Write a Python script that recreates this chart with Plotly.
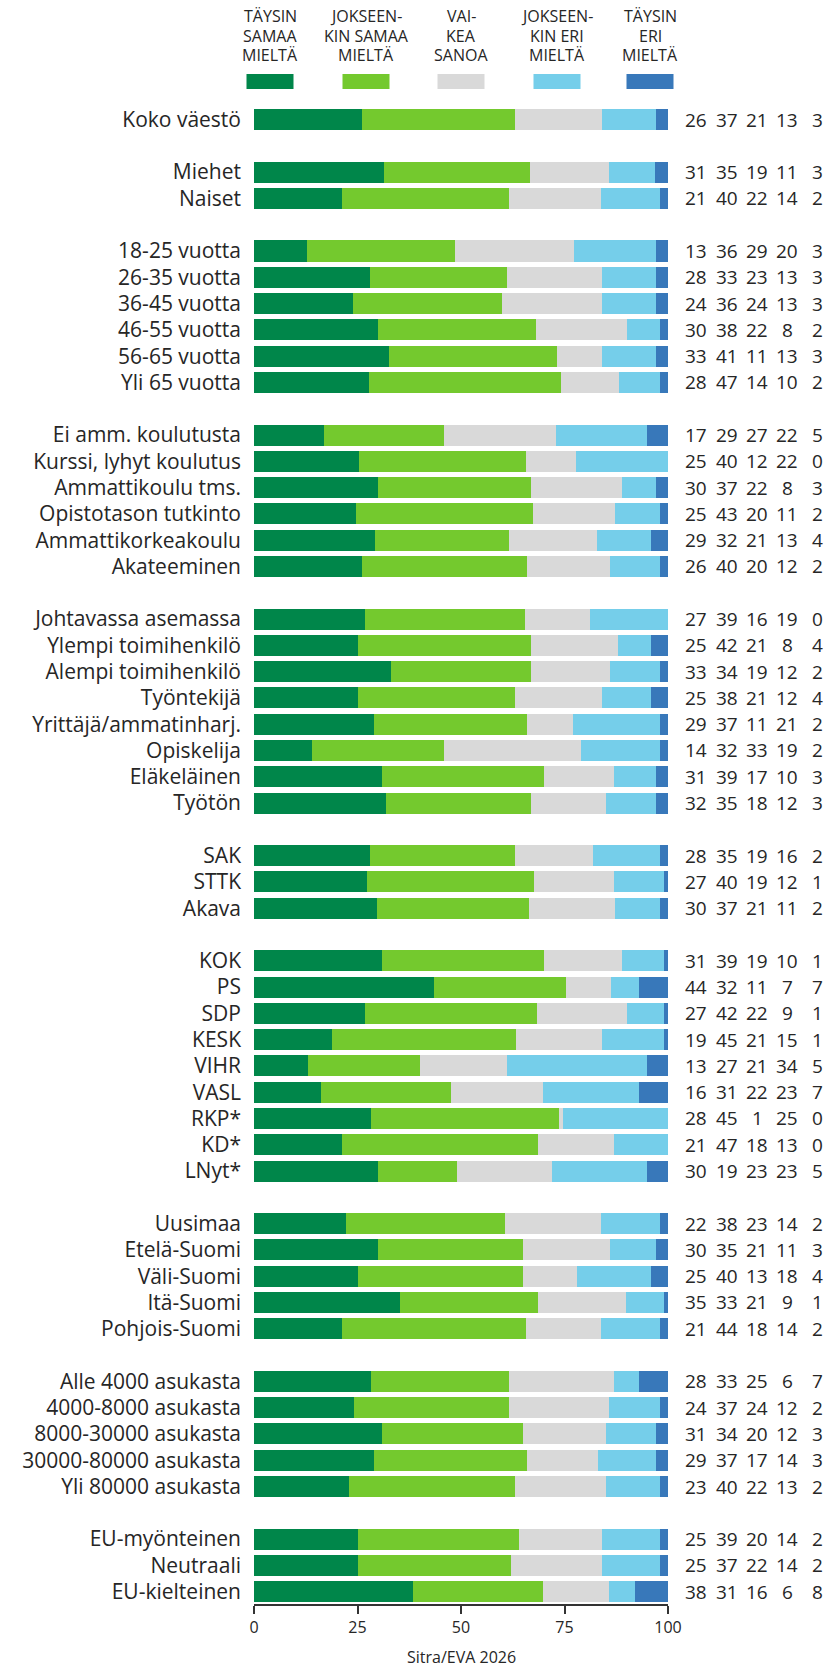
import plotly.graph_objects as go

# ---------------- data ----------------
legend_lines = [["TÄYSIN", "SAMAA", "MIELTÄ"], ["JOKSEEN-", "KIN SAMAA", "MIELTÄ"], ["VAI-", "KEA", "SANOA"],
                ["JOKSEEN-", "KIN ERI", "MIELTÄ"], ["TÄYSIN", "ERI", "MIELTÄ"]]
series_names = ["Täysin samaa mieltä", "Jokseenkin samaa mieltä", "Vaikea sanoa",
                "Jokseenkin eri mieltä", "Täysin eri mieltä"]
colors = ["#00864A", "#74C92E", "#D9D9D9", "#75CEEA", "#3878BA"]

groups = [
    ["Koko väestö"],
    ["Miehet", "Naiset"],
    ["18-25 vuotta", "26-35 vuotta", "36-45 vuotta", "46-55 vuotta", "56-65 vuotta", "Yli 65 vuotta"],
    ["Ei amm. koulutusta", "Kurssi, lyhyt koulutus", "Ammattikoulu tms.", "Opistotason tutkinto",
     "Ammattikorkeakoulu", "Akateeminen"],
    ["Johtavassa asemassa", "Ylempi toimihenkilö", "Alempi toimihenkilö", "Työntekijä",
     "Yrittäjä/ammatinharj.", "Opiskelija", "Eläkeläinen", "Työtön"],
    ["SAK", "STTK", "Akava"],
    ["KOK", "PS", "SDP", "KESK", "VIHR", "VASL", "RKP*", "KD*", "LNyt*"],
    ["Uusimaa", "Etelä-Suomi", "Väli-Suomi", "Itä-Suomi", "Pohjois-Suomi"],
    ["Alle 4000 asukasta", "4000-8000 asukasta", "8000-30000 asukasta", "30000-80000 asukasta",
     "Yli 80000 asukasta"],
    ["EU-myönteinen", "Neutraali", "EU-kielteinen"],
]

taysin_samaa = [26, 31, 21, 13, 28, 24, 30, 33, 28, 17, 25, 30, 25, 29, 26, 27, 25, 33, 25, 29, 14, 31, 32,
                28, 27, 30, 31, 44, 27, 19, 13, 16, 28, 21, 30, 22, 30, 25, 35, 21, 28, 24, 31, 29, 23,
                25, 25, 38]
jokseenkin_samaa = [37, 35, 40, 36, 33, 36, 38, 41, 47, 29, 40, 37, 43, 32, 40, 39, 42, 34, 38, 37, 32, 39,
                    35, 35, 40, 37, 39, 32, 42, 45, 27, 31, 45, 47, 19, 38, 35, 40, 33, 44, 33, 37, 34,
                    37, 40, 39, 37, 31]
vaikea_sanoa = [21, 19, 22, 29, 23, 24, 22, 11, 14, 27, 12, 22, 20, 21, 20, 16, 21, 19, 21, 11, 33, 17, 18,
                19, 19, 21, 19, 11, 22, 21, 21, 22, 1, 18, 23, 23, 21, 13, 21, 18, 25, 24, 20, 17, 22,
                20, 22, 16]
jokseenkin_eri = [13, 11, 14, 20, 13, 13, 8, 13, 10, 22, 22, 8, 11, 13, 12, 19, 8, 12, 12, 21, 19, 10, 12,
                  16, 12, 11, 10, 7, 9, 15, 34, 23, 25, 13, 23, 14, 11, 18, 9, 14, 6, 12, 12, 14, 13,
                  14, 14, 6]
taysin_eri = [3, 3, 2, 3, 3, 3, 2, 3, 2, 5, 0, 3, 2, 4, 2, 0, 4, 2, 4, 2, 2, 3, 3,
              2, 1, 2, 1, 7, 1, 1, 5, 7, 0, 0, 5, 2, 3, 4, 1, 2, 7, 2, 3, 3, 2,
              2, 2, 8]

x_ticks = [0, 25, 50, 75, 100]
source_text = "Sitra/EVA 2026"

# ---------------- layout helpers ----------------
W, H = 828, 1668
M_L, M_R, M_T, M_B = 254, 828 - 668, 108, 1668 - 1604
PLOT_W = W - M_L - M_R
PLOT_H = H - M_T - M_B


def px_x(p):  # page pixel -> paper x
    return (p - M_L) / PLOT_W


def px_y(p):  # page pixel -> paper y
    return (H - M_B - p) / PLOT_H


categories = []
ypos = []
slot = 0
for g in groups:
    for c in g:
        categories.append(c)
        ypos.append(slot)
        slot += 1
    slot += 1

series = [taysin_samaa, jokseenkin_samaa, vaikea_sanoa, jokseenkin_eri, taysin_eri]
totals = [sum(v[i] for v in series) for i in range(len(categories))]

FONT = "Open Sans"
TXT = "#262626"

fig = go.Figure()
for name, vals, col in zip(series_names, series, colors):
    fig.add_trace(go.Bar(
        x=[v / t * 100 for v, t in zip(vals, totals)],
        y=ypos, orientation="h", width=0.8,
        marker=dict(color=col, line=dict(width=0)),
        name=name, showlegend=False, hoverinfo="skip",
    ))

annotations = []
# value columns on the right
col_px = [696, 727, 757, 787, 817]
for vals, cx in zip(series, col_px):
    for v, yy in zip(vals, ypos):
        annotations.append(dict(
            x=px_x(cx), xref="paper", y=yy, yref="y", text=str(v), showarrow=False,
            xanchor="center", yanchor="middle", font=dict(family=FONT, size=19, color=TXT)))

# custom legend on top
leg_px = [270, 366, 461, 557, 650]
line_px = [16.5, 36, 55.5]
shapes = []
for lines, col, cx in zip(legend_lines, colors, leg_px):
    for ln, ly in zip(lines, line_px):
        annotations.append(dict(
            x=px_x(cx), xref="paper", y=px_y(ly), yref="paper", text=ln, showarrow=False,
            xanchor="center", yanchor="middle", align="center",
            font=dict(family=FONT, size=16, color=TXT)))
    shapes.append(dict(
        type="rect", xref="paper", yref="paper",
        x0=px_x(cx - 23.5), x1=px_x(cx + 23.5), y0=px_y(89), y1=px_y(74),
        fillcolor=col, line=dict(width=0)))

annotations.append(dict(
    x=0.5, xref="paper", y=px_y(1657), yref="paper", text=source_text, showarrow=False,
    xanchor="center", yanchor="middle", font=dict(family=FONT, size=16, color=TXT)))

fig.update_layout(
    width=W, height=H,
    margin=dict(l=M_L, r=M_R, t=M_T, b=M_B, autoexpand=False),
    paper_bgcolor="white", plot_bgcolor="white",
    barmode="stack", bargap=0,
    annotations=annotations, shapes=shapes,
    font=dict(family=FONT, color=TXT),
)
fig.update_xaxes(
    range=[0, 100], tickvals=x_ticks, ticktext=[str(t) for t in x_ticks],
    showgrid=False, zeroline=False, showline=True, linecolor="#333333", linewidth=1.5,
    ticks="outside", ticklen=8, tickwidth=1.5, tickcolor="#333333",
    tickfont=dict(family=FONT, size=16, color=TXT), fixedrange=True,
)
fig.update_yaxes(
    range=[56.47, -0.44], tickvals=ypos, ticktext=categories,
    showgrid=False, zeroline=False, showline=False, ticks="",
    ticklabelstandoff=12,
    tickfont=dict(family=FONT, size=21, color=TXT), fixedrange=True,
)

fig.write_html(
    "out.html",
    config={"displayModeBar": False},
    post_script="document.body.style.margin='0';document.body.style.overflow='hidden';",
)
